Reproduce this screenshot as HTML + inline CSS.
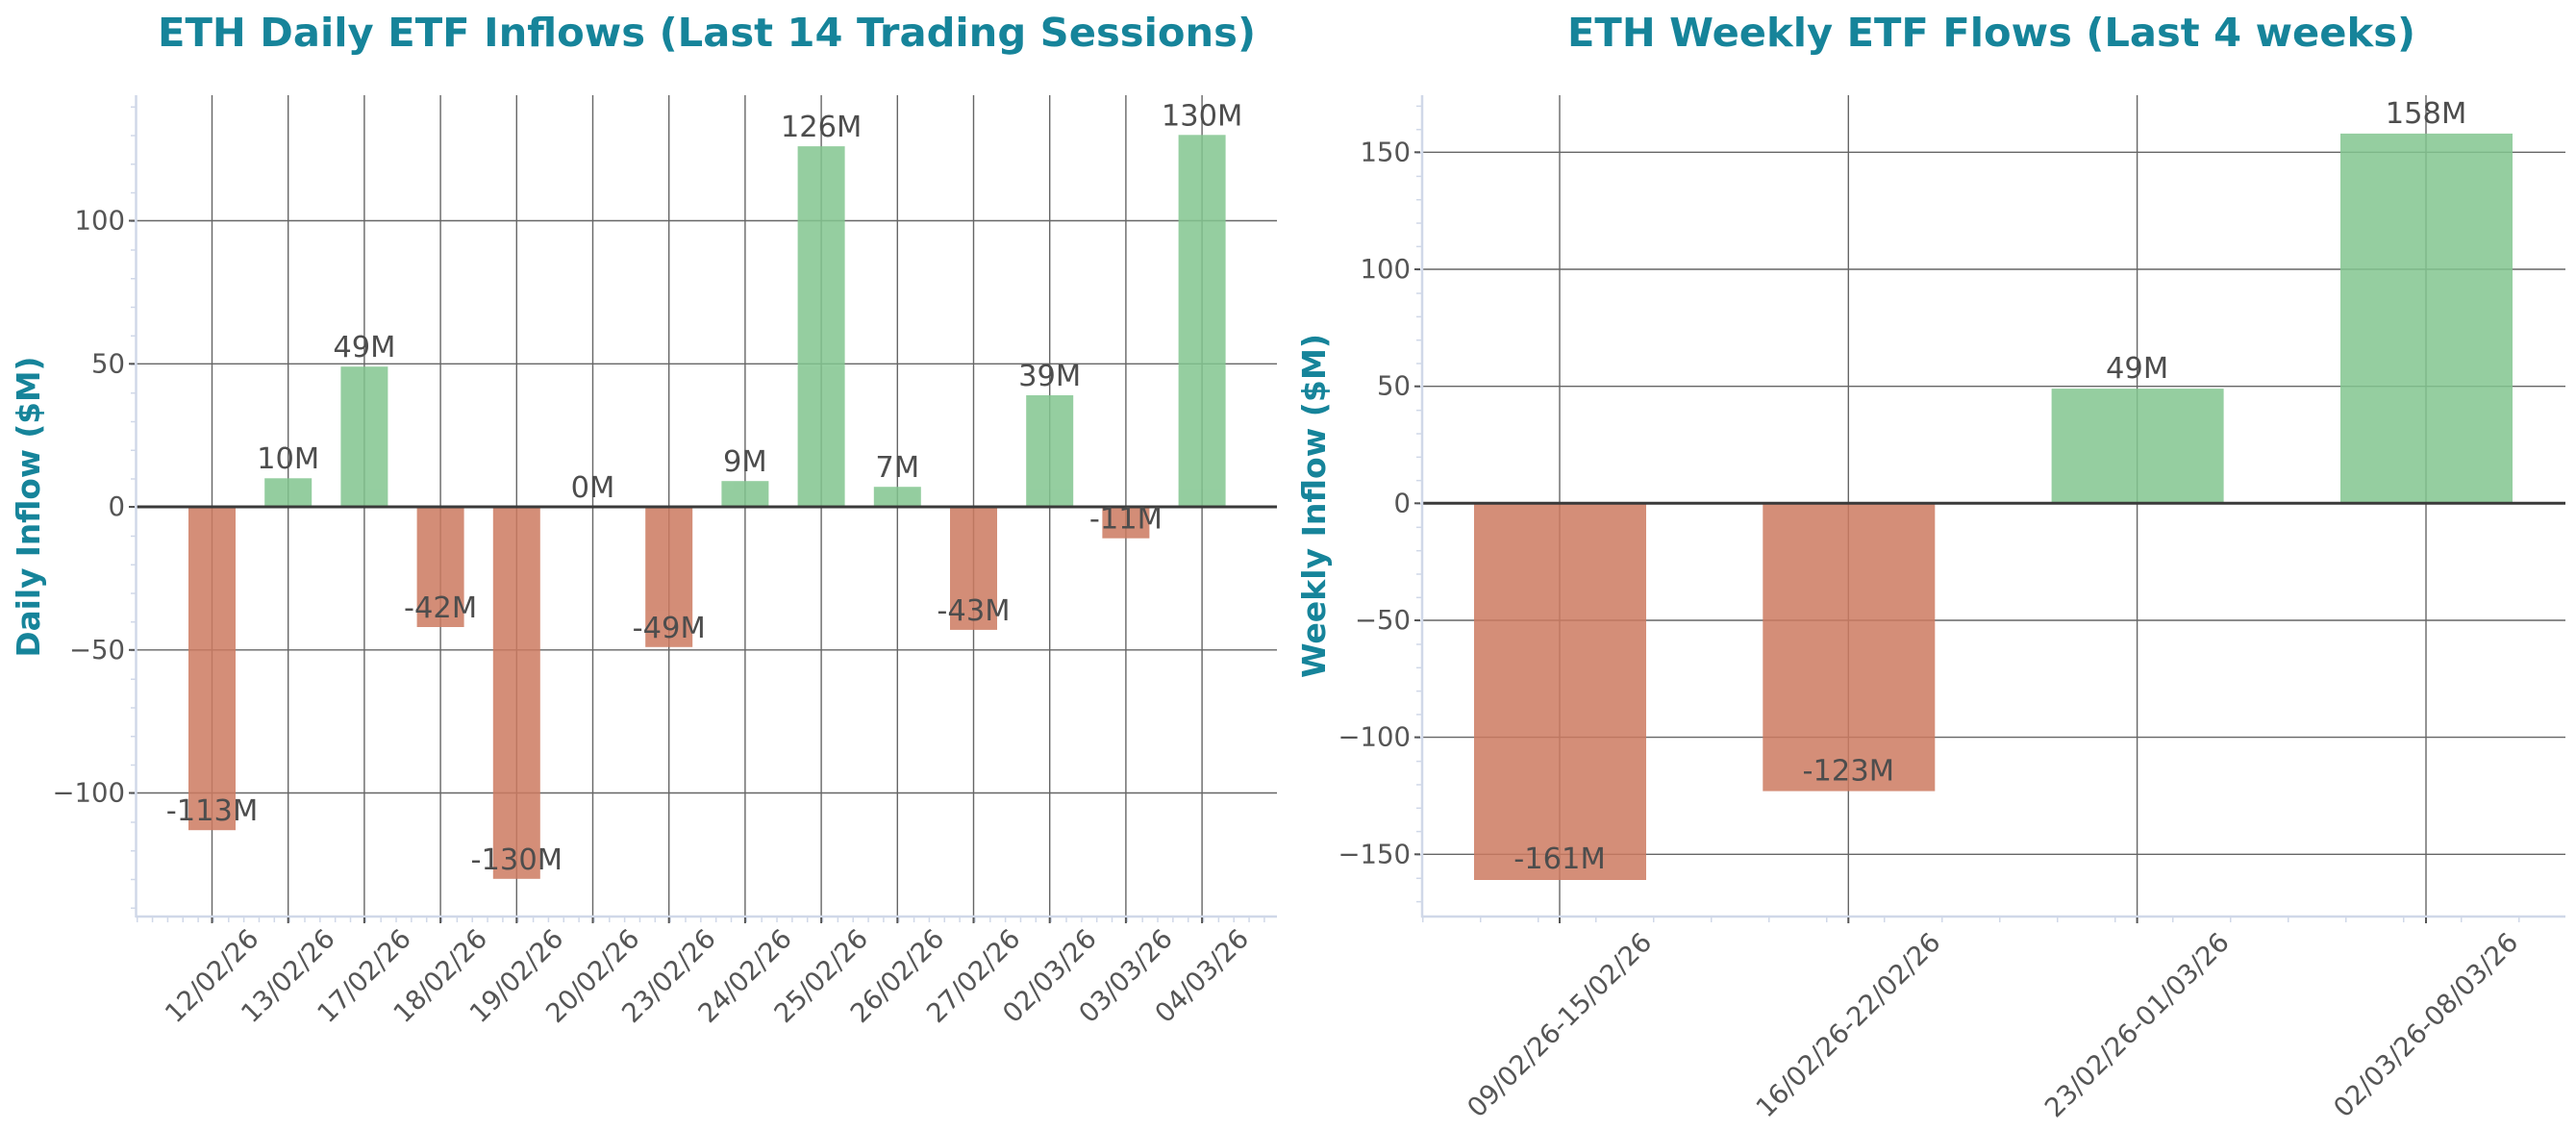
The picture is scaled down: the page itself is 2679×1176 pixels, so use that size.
<!DOCTYPE html>
<html><head><meta charset="utf-8"><style>
html,body{margin:0;padding:0;background:#fff}
svg{display:block}
text{font-family:"DejaVu Sans","Liberation Sans",sans-serif}
</style></head><body>
<svg width="2679" height="1176" viewBox="0 0 2679 1176" xmlns="http://www.w3.org/2000/svg">
<defs>
<pattern id="mx1" x="142" y="0" width="15.84" height="10" patternUnits="userSpaceOnUse"><rect x="0" y="0" width="1.5" height="10" fill="#d0d8e8"/></pattern>
<pattern id="my1" x="0" y="229.5" width="10" height="29.75" patternUnits="userSpaceOnUse"><rect x="0" y="0" width="10" height="1.5" fill="#d0d8e8"/></pattern>
<pattern id="mx2" x="1479" y="0" width="60" height="10" patternUnits="userSpaceOnUse"><rect x="0" y="0" width="1.5" height="10" fill="#d0d8e8"/></pattern>
<pattern id="my2" x="0" y="158.3" width="10" height="24.33" patternUnits="userSpaceOnUse"><rect x="0" y="0" width="10" height="1.5" fill="#d0d8e8"/></pattern>
</defs>
<rect width="2679" height="1176" fill="#fff"/>

<!-- ===== LEFT CHART ===== -->
<text x="735" y="48" text-anchor="middle" font-size="41" font-weight="bold" fill="#16849a" textLength="1142" lengthAdjust="spacingAndGlyphs">ETH Daily ETF Inflows (Last 14 Trading Sessions)</text>
<text transform="translate(41,527) rotate(-90)" text-anchor="middle" font-size="33" font-weight="bold" fill="#16849a" textLength="313" lengthAdjust="spacingAndGlyphs">Daily Inflow ($M)</text>

<rect x="142" y="954" width="1186" height="5" fill="url(#mx1)"/>
<rect x="136" y="100" width="5" height="852" fill="url(#my1)"/>

<g stroke="#666" stroke-width="1.4">
<line x1="142" x2="1328" y1="229.5" y2="229.5"/><line x1="142" x2="1328" y1="378.3" y2="378.3"/><line x1="142" x2="1328" y1="675.8" y2="675.8"/><line x1="142" x2="1328" y1="824.5" y2="824.5"/>
<line x1="220.5" x2="220.5" y1="99" y2="953"/><line x1="299.7" x2="299.7" y1="99" y2="953"/><line x1="378.9" x2="378.9" y1="99" y2="953"/><line x1="458.1" x2="458.1" y1="99" y2="953"/><line x1="537.3" x2="537.3" y1="99" y2="953"/><line x1="616.5" x2="616.5" y1="99" y2="953"/><line x1="695.7" x2="695.7" y1="99" y2="953"/><line x1="774.9" x2="774.9" y1="99" y2="953"/><line x1="854.1" x2="854.1" y1="99" y2="953"/><line x1="933.3" x2="933.3" y1="99" y2="953"/><line x1="1012.5" x2="1012.5" y1="99" y2="953"/><line x1="1091.7" x2="1091.7" y1="99" y2="953"/><line x1="1170.9" x2="1170.9" y1="99" y2="953"/><line x1="1250.1" x2="1250.1" y1="99" y2="953"/>
</g>
<g opacity="0.85">
<rect x="196" y="527" width="49" height="336.2" fill="#cc7a60"/>
<rect x="275.2" y="497.3" width="49" height="29.8" fill="#82c58f"/>
<rect x="354.4" y="381.2" width="49" height="145.8" fill="#82c58f"/>
<rect x="433.6" y="527" width="49" height="125" fill="#cc7a60"/>
<rect x="512.8" y="527" width="49" height="386.8" fill="#cc7a60"/>
<rect x="671.2" y="527" width="49" height="145.8" fill="#cc7a60"/>
<rect x="750.4" y="500.2" width="49" height="26.8" fill="#82c58f"/>
<rect x="829.6" y="152.1" width="49" height="374.9" fill="#82c58f"/>
<rect x="908.8" y="506.2" width="49" height="20.8" fill="#82c58f"/>
<rect x="988" y="527" width="49" height="127.9" fill="#cc7a60"/>
<rect x="1067.2" y="411" width="49" height="116" fill="#82c58f"/>
<rect x="1146.4" y="527" width="49" height="32.7" fill="#cc7a60"/>
<rect x="1225.6" y="140.3" width="49" height="386.7" fill="#82c58f"/>
</g>
<line x1="142" x2="1328" y1="527" y2="527" stroke="#3a3a3a" stroke-width="3"/>
<line x1="141.5" x2="141.5" y1="99" y2="954" stroke="#d0d8e8" stroke-width="2.5"/>
<line x1="141" x2="1328" y1="953" y2="953" stroke="#d0d8e8" stroke-width="2.5"/>
<g stroke="#555" stroke-width="2">
<line x1="220.5" x2="220.5" y1="954" y2="960"/><line x1="299.7" x2="299.7" y1="954" y2="960"/><line x1="378.9" x2="378.9" y1="954" y2="960"/><line x1="458.1" x2="458.1" y1="954" y2="960"/><line x1="537.3" x2="537.3" y1="954" y2="960"/><line x1="616.5" x2="616.5" y1="954" y2="960"/><line x1="695.7" x2="695.7" y1="954" y2="960"/><line x1="774.9" x2="774.9" y1="954" y2="960"/><line x1="854.1" x2="854.1" y1="954" y2="960"/><line x1="933.3" x2="933.3" y1="954" y2="960"/><line x1="1012.5" x2="1012.5" y1="954" y2="960"/><line x1="1091.7" x2="1091.7" y1="954" y2="960"/><line x1="1170.9" x2="1170.9" y1="954" y2="960"/><line x1="1250.1" x2="1250.1" y1="954" y2="960"/>
<line x1="134" x2="140" y1="229.5" y2="229.5"/><line x1="134" x2="140" y1="378.3" y2="378.3"/><line x1="134" x2="140" y1="527" y2="527"/><line x1="134" x2="140" y1="675.8" y2="675.8"/><line x1="134" x2="140" y1="824.5" y2="824.5"/>
</g>
<g font-size="27.5" fill="#555" text-anchor="end" dominant-baseline="central">
<text x="130" y="229.5">100</text><text x="130" y="378.3">50</text><text x="130" y="527">0</text><text x="130" y="675.8">−50</text><text x="130" y="824.5">−100</text>
</g>
<g font-size="27.5" fill="#555" text-anchor="middle" dominant-baseline="central">
<text transform="translate(220.5,1015) rotate(-45)">12/02/26</text>
<text transform="translate(299.7,1015) rotate(-45)">13/02/26</text>
<text transform="translate(378.9,1015) rotate(-45)">17/02/26</text>
<text transform="translate(458.1,1015) rotate(-45)">18/02/26</text>
<text transform="translate(537.3,1015) rotate(-45)">19/02/26</text>
<text transform="translate(616.5,1015) rotate(-45)">20/02/26</text>
<text transform="translate(695.7,1015) rotate(-45)">23/02/26</text>
<text transform="translate(774.9,1015) rotate(-45)">24/02/26</text>
<text transform="translate(854.1,1015) rotate(-45)">25/02/26</text>
<text transform="translate(933.3,1015) rotate(-45)">26/02/26</text>
<text transform="translate(1012.5,1015) rotate(-45)">27/02/26</text>
<text transform="translate(1091.7,1015) rotate(-45)">02/03/26</text>
<text transform="translate(1170.9,1015) rotate(-45)">03/03/26</text>
<text transform="translate(1250.1,1015) rotate(-45)">04/03/26</text>
</g>
<g font-size="30.5" fill="#4d4d4d" text-anchor="middle">
<text x="220.5" y="853">-113M</text><text x="299.7" y="487">10M</text><text x="378.9" y="371">49M</text><text x="458.1" y="642">-42M</text><text x="537.3" y="903.8">-130M</text><text x="616.5" y="517">0M</text><text x="695.7" y="662.8">-49M</text><text x="774.9" y="490">9M</text><text x="854.1" y="142">126M</text><text x="933.3" y="496">7M</text><text x="1012.5" y="645">-43M</text><text x="1091.7" y="401">39M</text><text x="1170.9" y="549.7">-11M</text><text x="1250.1" y="130.3">130M</text>
</g>

<!-- ===== RIGHT CHART ===== -->
<text x="2071" y="48" text-anchor="middle" font-size="41" font-weight="bold" fill="#16849a" textLength="882" lengthAdjust="spacingAndGlyphs">ETH Weekly ETF Flows (Last 4 weeks)</text>
<text transform="translate(1378,526) rotate(-90)" text-anchor="middle" font-size="33" font-weight="bold" fill="#16849a" textLength="358" lengthAdjust="spacingAndGlyphs">Weekly Inflow ($M)</text>

<rect x="1479" y="954" width="1189" height="5" fill="url(#mx2)"/>
<rect x="1473" y="100" width="5" height="852" fill="url(#my2)"/>

<g stroke="#666" stroke-width="1.4">
<line x1="1479" x2="2668" y1="158.3" y2="158.3"/><line x1="1479" x2="2668" y1="280" y2="280"/><line x1="1479" x2="2668" y1="401.7" y2="401.7"/><line x1="1479" x2="2668" y1="645" y2="645"/><line x1="1479" x2="2668" y1="766.6" y2="766.6"/><line x1="1479" x2="2668" y1="888.3" y2="888.3"/>
<line x1="1622" x2="1622" y1="99" y2="953"/><line x1="1922.3" x2="1922.3" y1="99" y2="953"/><line x1="2222.6" x2="2222.6" y1="99" y2="953"/><line x1="2523" x2="2523" y1="99" y2="953"/>
</g>
<g opacity="0.85">
<rect x="1533" y="523.3" width="179" height="391.7" fill="#cc7a60"/>
<rect x="1833.3" y="523.3" width="179" height="299.3" fill="#cc7a60"/>
<rect x="2133.6" y="404.1" width="179" height="119.2" fill="#82c58f"/>
<rect x="2434" y="138.9" width="179" height="384.4" fill="#82c58f"/>
</g>
<line x1="1479" x2="2668" y1="523.3" y2="523.3" stroke="#3a3a3a" stroke-width="3"/>
<line x1="1479" x2="1479" y1="99" y2="954" stroke="#d0d8e8" stroke-width="2.5"/>
<line x1="1478" x2="2668" y1="953" y2="953" stroke="#d0d8e8" stroke-width="2.5"/>
<g stroke="#555" stroke-width="2">
<line x1="1622" x2="1622" y1="954" y2="960"/><line x1="1922.3" x2="1922.3" y1="954" y2="960"/><line x1="2222.6" x2="2222.6" y1="954" y2="960"/><line x1="2523" x2="2523" y1="954" y2="960"/>
<line x1="1471" x2="1477" y1="158.3" y2="158.3"/><line x1="1471" x2="1477" y1="280" y2="280"/><line x1="1471" x2="1477" y1="401.7" y2="401.7"/><line x1="1471" x2="1477" y1="523.3" y2="523.3"/><line x1="1471" x2="1477" y1="645" y2="645"/><line x1="1471" x2="1477" y1="766.6" y2="766.6"/><line x1="1471" x2="1477" y1="888.3" y2="888.3"/>
</g>
<g font-size="27.5" fill="#555" text-anchor="end" dominant-baseline="central">
<text x="1467" y="158.3">150</text><text x="1467" y="280">100</text><text x="1467" y="401.7">50</text><text x="1467" y="523.3">0</text><text x="1467" y="645">−50</text><text x="1467" y="766.6">−100</text><text x="1467" y="888.3">−150</text>
</g>
<g font-size="27.5" fill="#555" text-anchor="middle" dominant-baseline="central">
<text transform="translate(1622,1066) rotate(-45)">09/02/26-15/02/26</text>
<text transform="translate(1922.3,1066) rotate(-45)">16/02/26-22/02/26</text>
<text transform="translate(2222.6,1066) rotate(-45)">23/02/26-01/03/26</text>
<text transform="translate(2523,1066) rotate(-45)">02/03/26-08/03/26</text>
</g>
<g font-size="30.5" fill="#4d4d4d" text-anchor="middle">
<text x="1622" y="903">-161M</text><text x="1922.3" y="811.6">-123M</text><text x="2222.6" y="393">49M</text><text x="2523" y="128">158M</text>
</g>
</svg>
</body></html>
